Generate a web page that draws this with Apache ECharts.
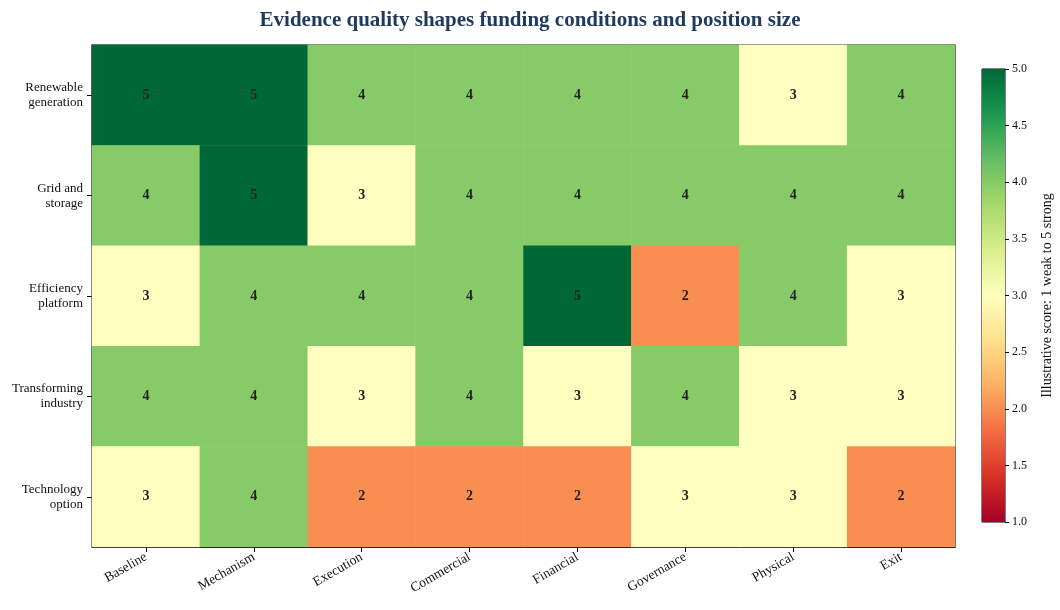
<!DOCTYPE html>
<html>
<head>
<meta charset="utf-8">
<script src="https://cdn.jsdelivr.net/npm/echarts@6/dist/echarts.min.js"></script>
<style>
  html, body { margin: 0; padding: 0; background: #fff; }
  #chart { width: 1060px; height: 610px; }
</style>
</head>
<body>
<div id="chart"></div>
<script>
var stages = ['Baseline', 'Mechanism', 'Execution', 'Commercial', 'Financial', 'Governance', 'Physical', 'Exit'];
var sectors = ['Renewable\ngeneration', 'Grid and\nstorage', 'Efficiency\nplatform', 'Transforming\nindustry', 'Technology\noption'];
var scores = [
    [5, 5, 4, 4, 4, 4, 3, 4],
    [4, 5, 3, 4, 4, 4, 4, 4],
    [3, 4, 4, 4, 5, 2, 4, 3],
    [4, 4, 3, 4, 3, 4, 3, 3],
    [3, 4, 2, 2, 2, 3, 3, 2]
];
var scoreMin = 1;
var scoreMax = 5;
// RdYlGn, low -> high
var rdYlGn = ['#a50026', '#d73027', '#f46d43', '#fdae61', '#fee08b', '#ffffbf',
              '#d9ef8b', '#a6d96a', '#66bd63', '#1a9850', '#006837'];

var font = 'Liberation Serif';

var cells = [];
scores.forEach(function(row, r) {
    row.forEach(function(v, c) {
        cells.push([c, r, v]);
    });
});

var gradStops = rdYlGn.map(function(col, i) {
    return {offset: 1 - i / (rdYlGn.length - 1), color: col};
});

var myChart = echarts.init(document.getElementById('chart'));
var option = {
    animation: false,
    textStyle: {fontFamily: font},
    title: {
        text: 'Evidence quality shapes funding conditions and position size',
        left: 'center',
        top: 5,
        textStyle: {fontFamily: font, fontSize: 21, fontWeight: 'bold', color: '#1f3a5c'}
    },
    grid: [
        {left: 92, right: 105, top: 45, bottom: 63, show: true, borderColor: '#000', borderWidth: 1.2, backgroundColor: 'transparent'},
        {left: 982, right: 55, top: 69, bottom: 88, show: true, borderColor: '#000', borderWidth: 1, backgroundColor: 'transparent'}
    ],
    xAxis: [
        {
            type: 'category', gridIndex: 0, data: stages,
            axisLine: {show: true, lineStyle: {color: '#000'}},
            axisTick: {show: true, alignWithLabel: true, length: 5, lineStyle: {color: '#000'}},
            axisLabel: {rotate: 30, fontFamily: font, fontSize: 13.5, color: '#111', margin: 9},
            splitLine: {show: false}
        },
        {type: 'category', gridIndex: 1, data: [''], show: false}
    ],
    yAxis: [
        {
            type: 'category', gridIndex: 0, data: sectors, inverse: true,
            axisLine: {show: true, lineStyle: {color: '#000'}},
            axisTick: {show: true, alignWithLabel: true, length: 5, lineStyle: {color: '#000'}},
            axisLabel: {fontFamily: font, fontSize: 13, color: '#111', align: 'right', lineHeight: 15, margin: 9},
            splitLine: {show: false}
        },
        {
            type: 'value', gridIndex: 1, position: 'right',
            min: scoreMin, max: scoreMax, interval: 0.5,
            axisLine: {show: false},
            axisTick: {show: true, length: 4, lineStyle: {color: '#000'}},
            axisLabel: {fontFamily: font, fontSize: 12, color: '#111', margin: 7,
                formatter: function(v) { return v.toFixed(1); }},
            splitLine: {show: false},
            name: 'Illustrative score: 1 weak to 5 strong',
            nameLocation: 'middle', nameRotate: 90, nameGap: 35,
            nameTextStyle: {fontFamily: font, fontSize: 14, color: '#111'}
        }
    ],
    visualMap: {
        show: false, type: 'continuous', seriesIndex: 0,
        min: scoreMin, max: scoreMax,
        inRange: {color: rdYlGn}
    },
    series: [
        {
            type: 'heatmap', xAxisIndex: 0, yAxisIndex: 0,
            data: cells,
            label: {show: true, fontFamily: font, fontSize: 14, fontWeight: 'bold', color: '#222'},
            itemStyle: {borderWidth: 0}
        },
        {
            type: 'custom', xAxisIndex: 1, yAxisIndex: 1,
            data: [[0, scoreMin, scoreMax]],
            renderItem: function(params, api) {
                var lo = api.coord([0, api.value(1)]);
                var hi = api.coord([0, api.value(2)]);
                var w = params.coordSys.width;
                return {
                    type: 'rect',
                    shape: {x: params.coordSys.x, y: hi[1], width: w, height: lo[1] - hi[1]},
                    style: {fill: new echarts.graphic.LinearGradient(0, 0, 0, 1, gradStops)}
                };
            },
            silent: true
        }
    ]
};
myChart.setOption(option);
</script>
</body>
</html>
